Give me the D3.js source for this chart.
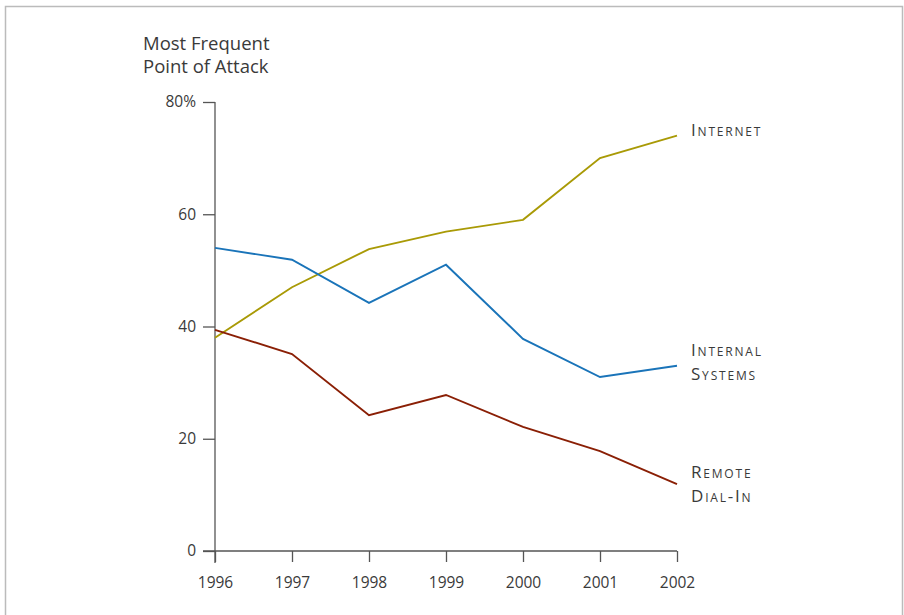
<!DOCTYPE html>
<html>
<head>
<meta charset="utf-8">
<script src="https://cdn.jsdelivr.net/npm/d3@7"></script>
<style>
  body { margin: 0; background: #fff; }
  svg { display: block; }
  text { font-family: "Open Sans", "Noto Sans", sans-serif; fill: #3a3a3a; }
  .axis path, .axis line { stroke: #555; stroke-width: 1.3; }
  .axis text { font-size: 15.5px; fill: #3a3a3a; }
  .line { fill: none; stroke-width: 1.9; }
  .lbl { font-size: 17px; font-variant: small-caps; letter-spacing: 1.8px; }
</style>
</head>
<body>
<svg width="904" height="615"></svg>
<script>
var years = [1996, 1997, 1998, 1999, 2000, 2001, 2002];
var internet = [38, 47, 53.8, 56.9, 59, 70, 74];
var internal = [54, 51.9, 44.2, 51, 37.8, 31, 33];
var remote = [39.4, 35.1, 24.2, 27.8, 22.1, 17.8, 11.9];
var yTicks = [0, 20, 40, 60, 80];

var series = [
  {name: ["Internet"], values: internet, color: "#a99a06"},
  {name: ["Internal", "Systems"], values: internal, color: "#1a74b9"},
  {name: ["Remote", "Dial-In"], values: remote, color: "#8a1f05"}
];

var svg = d3.select("svg");

// frame
svg.append("path")
    .attr("d", "M5.5,615 V6.5 H902.5 V615")
    .attr("fill", "none")
    .attr("stroke", "#bbb")
    .attr("stroke-width", 1.5);

var x = d3.scaleLinear().domain([1996, 2002]).range([215, 677]),
    y = d3.scaleLinear().domain([0, 80]).range([551, 102]);

// y axis
var yAxis = svg.append("g")
    .attr("class", "axis")
    .attr("transform", "translate(215,0)")
    .call(d3.axisLeft(y).tickValues(yTicks).tickSize(12).tickPadding(7)
      .tickFormat(function(d) { return d === 80 ? "80%" : d; }));
yAxis.select(".domain").attr("d", "M0,102V563");

// x axis
var xAxis = svg.append("g")
    .attr("class", "axis")
    .attr("transform", "translate(0,551)")
    .call(d3.axisBottom(x).tickValues(years).tickSize(11).tickPadding(15)
      .tickFormat(d3.format("d")));
xAxis.select(".domain").attr("d", "M203,0H677");

// title
svg.append("text").attr("x", 143).attr("y", 50).style("font-size", "18.5px").text("Most Frequent");
svg.append("text").attr("x", 143).attr("y", 73).style("font-size", "18.5px").text("Point of Attack");

var line = d3.line()
    .x(function(d, i) { return x(years[i]); })
    .y(function(d) { return y(d); });

svg.selectAll(".line")
  .data(series)
  .enter().append("path")
    .attr("class", "line")
    .attr("stroke", function(d) { return d.color; })
    .attr("d", function(d) { return line(d.values); });

// labels at the end of each line, one text per row
var labelY = [136, 356, 478];
series.forEach(function(s, i) {
  s.name.forEach(function(n, j) {
    svg.append("text").attr("class", "lbl")
        .attr("x", 691)
        .attr("y", labelY[i] + j * 23.5)
        .text(n);
  });
});
</script>
</body>
</html>
